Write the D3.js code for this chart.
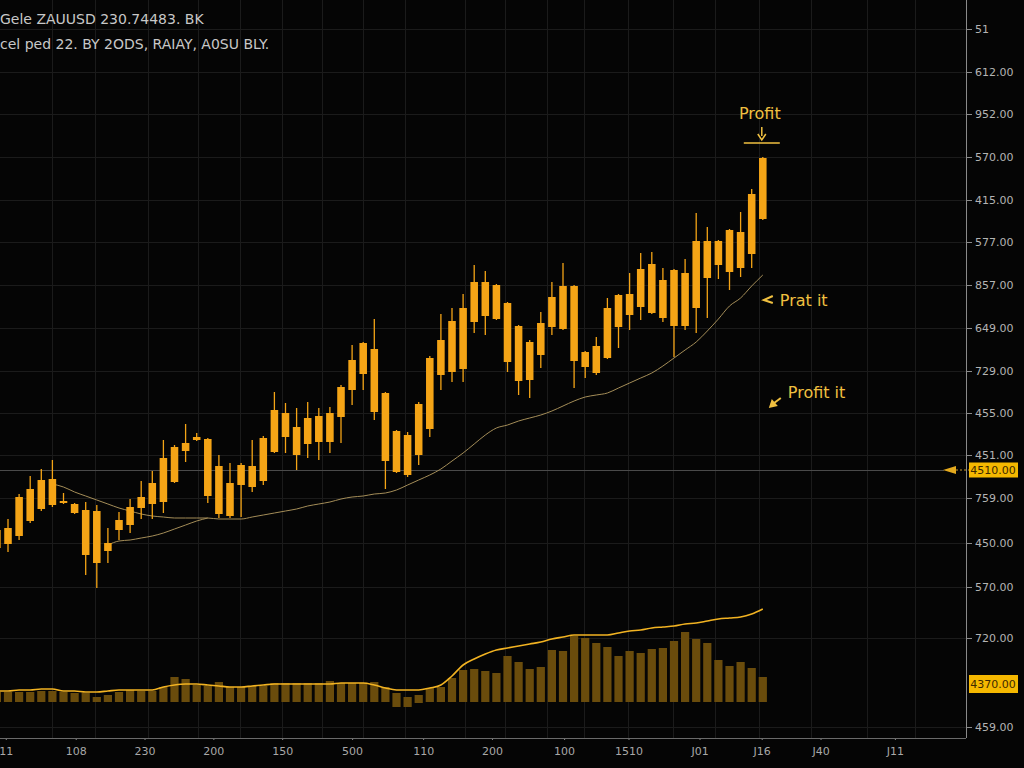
<!DOCTYPE html>
<html>
<head>
<meta charset="utf-8">
<script src="https://cdn.jsdelivr.net/npm/d3@7"></script>
<style>
  html, body { margin: 0; padding: 0; background: #050505; }
  svg { display: block; }
</style>
</head>
<body>
<div id="chart"></div>
<script>
// frame
const WIDTH = 1024;
const HEIGHT = 768;
const AXIS_X = 966;   // right price axis
const AXIS_Y = 738;   // bottom time axis

// candles (all drawn the same orange in the reference)
const openP = [4452,4456,4464,4479,4491,4495,4497,4487,4445,4437,
               4449,4470,4475,4492,4496,4498,4518,4549,4560,4504,
               4486,4484,4515,4513,4519,4548,4563,4545,4556,4558,
               4558,4583,4610,4626,4588,4539,4528,4525,4545,4571,
               4625,4628,4631,4678,4684,4681,4638,4619,4620,4645,
               4673,4671,4639,4633,4627,4642,4673,4685,4693,4687,
               4682,4674,4674,4692,4722,4735,4728,4732,4746,4781];
const closeP = [4470,4472,4503,4511,4520,4521,4499,4496,4490,4489,
                4457,4480,4493,4503,4517,4542,4553,4557,4563,4561,
                4534,4517,4535,4534,4562,4590,4587,4573,4582,4584,
                4587,4613,4640,4657,4651,4607,4569,4565,4596,4642,
                4660,4679,4692,4718,4718,4715,4697,4674,4658,4677,
                4703,4714,4714,4648,4654,4692,4705,4706,4731,4736,
                4720,4730,4727,4759,4759,4759,4770,4768,4806,4842];
const highP = [4475,4481,4506,4524,4531,4540,4507,4497,4498,4495,
               4472,4488,4501,4519,4529,4560,4555,4576,4567,4562,
               4545,4537,4537,4560,4564,4608,4597,4592,4598,4592,
               4593,4615,4655,4658,4681,4608,4570,4568,4598,4644,
               4686,4692,4706,4735,4729,4716,4698,4675,4660,4688,
               4718,4737,4715,4649,4663,4702,4706,4727,4747,4748,
               4732,4731,4741,4787,4773,4760,4771,4788,4811,4843];
const lowP = [4448,4448,4460,4477,4489,4493,4496,4486,4425,4412,
              4437,4460,4467,4481,4481,4487,4517,4538,4559,4497,
              4482,4482,4483,4508,4515,4547,4547,4530,4542,4540,
              4547,4557,4595,4610,4580,4511,4527,4523,4535,4563,
              4610,4618,4618,4667,4665,4680,4628,4605,4602,4632,
              4665,4670,4612,4622,4625,4641,4652,4670,4680,4686,
              4678,4643,4670,4667,4682,4721,4710,4723,4732,4780];

// moving averages
const maSlow = [null,null,null,null,null,4516,4513,4508,4504,4500,
                4496,4492,4489,4486,4484,4483,4482,4482,4482,4482,
                4481,4481,4481,4483,4485,4487,4489,4491,4494,4496,
                4498,4501,4503,4504,4506,4507,4510,4515,4520,4525,
                4531,4539,4547,4556,4565,4572,4575,4579,4582,4585,
                4589,4594,4599,4603,4605,4607,4612,4617,4622,4627,
                4634,4642,4650,4658,4669,4681,4694,4702,4714,4725];
const maFast = [null,null,null,null,null,null,null,null,null,null,
                4455,4459,4460,4462,4464,4467,4471,4475,4479,4482];

// volume panel
const volume = [10,10,10,10,11,11,10,9,9,5,
                7,10,12,11,11,15,25,23,17,16,
                20,15,15,16,16,19,19,19,19,19,
                21,19,19,19,20,15,9,5,7,14,
                15,24,32,33,31,29,46,40,33,35,
                52,51,66,64,59,55,46,51,49,53,
                54,61,70,63,59,42,36,40,34,25];
const dipBars = [36, 37, 38];
const dipDepth = [5, 5, 1];
const volumeLine = [11,11,12,12,13,13,11,11,10,10,
                    11,12,12,12,12,15,17,18,18,17,
                    16,15,15,16,17,18,18,18,18,18,
                    18,19,19,19,17,14,12,12,12,14,
                    17,26,37,43,48,52,54,56,58,60,
                    63,65,67,67,67,67,69,71,72,74,
                    75,76,78,79,81,83,84,85,88,93];

// axes
const priceTicks = [4971,4928,4886,4843,4800,4758,4715,4672,4629,4587,4545,4502,4457,4413,4362,4273];
const priceLabels = ["51","612.00","952.00","570.00","415.00","577.00","857.00","649.00",
                     "729.00","455.00","451.00","759.00","450.00","570.00","720.00","459.00"];
const timeTicks = [0.8,7.1,13.3,19.5,25.7,32,38.4,44.6,51.1,56.9,63.3,68.9,74.2,80.9];
const timeLabels = ["11","108","230","200","150","500","110","200","100","1510","J01","J16","J40","J11"];
const gridCols = [5.0,8.8,13.6,18.1,21.9,25.7,29.3,33.0,36.8,42.2,45.8,49.6,52.9,56.9,60.9,64.7,68.7,73.3,78.4,82.7];

// markers
const lastPrice = 4530;
const lastLabel = "4510.00";
const volPrice = 4316;
const volLabel = "4370.00";

const ORANGE = "#f4a416";
const GOLD = "#f0c040";

const svg = d3.select("#chart")
  .append("svg")
    .attr("width", WIDTH)
    .attr("height", HEIGHT);

svg.append("rect")
  .attr("width", WIDTH)
  .attr("height", HEIGHT)
  .attr("fill", "#050505");

svg.append("clipPath").attr("id", "plot")
  .append("rect")
    .attr("x", 0).attr("y", 0)
    .attr("width", AXIS_X).attr("height", AXIS_Y);

const x = d3.scaleLinear().domain([0, 87]).range([-3.1, 962.6]);
const y = d3.scaleLinear().domain([4232, 5000]).range([768, 0]);
const volY = d3.scaleLinear().domain([0, 100]).range([702, 602]);
const step = x(1) - x(0);

// grid
const grid = svg.append("g").attr("stroke", "#1b1b1b").attr("stroke-width", 1);
grid.selectAll(".h").data(priceTicks).enter().append("line")
  .attr("x1", 0).attr("x2", AXIS_X)
  .attr("y1", (d) => Math.round(y(d)) + 0.5)
  .attr("y2", (d) => Math.round(y(d)) + 0.5);
grid.selectAll(".v").data(gridCols).enter().append("line")
  .attr("x1", (d) => Math.round(x(d)) + 0.5)
  .attr("x2", (d) => Math.round(x(d)) + 0.5)
  .attr("y1", 0).attr("y2", AXIS_Y);

// last price line
svg.append("line")
  .attr("x1", 0).attr("x2", 944)
  .attr("y1", Math.round(y(lastPrice)) + 0.5)
  .attr("y2", Math.round(y(lastPrice)) + 0.5)
  .attr("stroke", "#4a4a4a");

const plot = svg.append("g").attr("clip-path", "url(#plot)");

// volume bars
const bars = plot.append("g").attr("fill", "#6a4c0c");
bars.selectAll("rect").data(volume).enter().append("rect")
  .attr("x", (d, i) => x(i) - step * 0.37)
  .attr("width", step * 0.74)
  .attr("y", (d) => volY(d))
  .attr("height", (d, i) => {
    const k = dipBars.indexOf(i);
    return volY(k >= 0 ? -dipDepth[k] : 0) - volY(d);
  });

// volume line
plot.append("path")
  .datum(volumeLine)
  .attr("fill", "none")
  .attr("stroke", "#f2b322")
  .attr("stroke-width", 1.6)
  .attr("d", d3.line()
    .x((d, i) => x(i))
    .y((d) => volY(d))
    .curve(d3.curveMonotoneX));

// moving averages
const maLine = d3.line()
  .defined((d) => d != null)
  .x((d, i) => x(i))
  .y((d) => y(d))
  .curve(d3.curveMonotoneX);

[maSlow, maFast].forEach((series) => {
  plot.append("path")
    .datum(series)
    .attr("fill", "none")
    .attr("stroke", "#a48d58")
    .attr("stroke-width", 1)
    .attr("d", maLine);
});

// candles
const candles = plot.append("g")
  .selectAll("g")
  .data(openP)
  .enter()
  .append("g");

candles.append("line")
  .attr("x1", (d, i) => x(i))
  .attr("x2", (d, i) => x(i))
  .attr("y1", (d, i) => y(highP[i]))
  .attr("y2", (d, i) => y(lowP[i]))
  .attr("stroke", ORANGE)
  .attr("stroke-width", 1.3);

candles.append("rect")
  .attr("x", (d, i) => x(i) - step * 0.34)
  .attr("width", step * 0.68)
  .attr("y", (d, i) => y(Math.max(d, closeP[i])))
  .attr("height", (d, i) => Math.max(1.5, Math.abs(y(d) - y(closeP[i]))))
  .attr("fill", ORANGE);

// right axis
const yAxis = d3.axisRight(y)
  .tickValues(priceTicks)
  .tickFormat((d, i) => priceLabels[i])
  .tickSize(6)
  .tickPadding(3);

const yAxisG = svg.append("g")
  .attr("transform", `translate(${AXIS_X},0)`)
  .call(yAxis);
yAxisG.select(".domain").remove();
yAxisG.selectAll("line").attr("stroke", "#8a8a8a");
yAxisG.selectAll("text")
  .attr("fill", "#b4b4b4")
  .style("font-family", "DejaVu Sans")
  .style("font-size", "11px");

svg.append("line")
  .attr("x1", AXIS_X + 0.5).attr("x2", AXIS_X + 0.5)
  .attr("y1", 0).attr("y2", AXIS_Y)
  .attr("stroke", "#8a8a8a");

// bottom axis
const xAxis = d3.axisBottom(x)
  .tickValues(timeTicks)
  .tickFormat((d, i) => timeLabels[i])
  .tickSize(2)
  .tickPadding(7);

const xAxisG = svg.append("g")
  .attr("transform", `translate(0,${AXIS_Y})`)
  .call(xAxis);
xAxisG.select(".domain").remove();
xAxisG.selectAll("line").attr("stroke", "#8a8a8a");
xAxisG.selectAll("text")
  .attr("fill", "#a8a8a8")
  .style("font-family", "DejaVu Sans")
  .style("font-size", "11px");

svg.append("line")
  .attr("x1", 0).attr("x2", AXIS_X)
  .attr("y1", AXIS_Y + 0.5).attr("y2", AXIS_Y + 0.5)
  .attr("stroke", "#6a6a6a");

// price tags on the axis
function priceTag(price, label, h) {
  const cy = y(price);
  svg.append("rect")
    .attr("x", 969).attr("y", cy - h / 2)
    .attr("width", 49).attr("height", h)
    .attr("fill", "#f5b800");
  svg.append("text")
    .attr("x", 993).attr("y", cy + 4)
    .attr("text-anchor", "middle")
    .attr("fill", "#3e2a00")
    .style("font-family", "DejaVu Sans")
    .style("font-size", "11px")
    .text(label);
}
priceTag(lastPrice, lastLabel, 15);
priceTag(volPrice, volLabel, 18);

// last price arrow
const ly = y(lastPrice);
svg.append("path")
  .attr("d", `M943,${ly} L956,${ly - 4} L956,${ly + 4} Z`)
  .attr("fill", "#e4aa1e");
svg.append("line")
  .attr("x1", 956).attr("x2", 969)
  .attr("y1", ly).attr("y2", ly)
  .attr("stroke", "#c89a30")
  .attr("stroke-dasharray", "2,2");

// title
const title = svg.append("g")
  .attr("fill", "#c8c8c8")
  .style("font-family", "DejaVu Sans")
  .style("font-size", "14px");
title.append("text").attr("x", 0).attr("y", 24)
  .text("Gele ZAUUSD 230.74483. BK");
title.append("text").attr("x", 0).attr("y", 49)
  .text("cel ped 22. BY 2ODS, RAIAY, A0SU BLY.");

// annotations
const last = openP.length - 1;
const ann = svg.append("g")
  .attr("fill", GOLD)
  .style("font-family", "DejaVu Sans")
  .style("font-size", "16px");

const ax = x(last);
ann.append("text")
  .attr("x", ax - 3).attr("y", y(4881))
  .attr("text-anchor", "middle")
  .text("Profit");
ann.append("line")
  .attr("x1", ax - 1).attr("x2", ax - 1)
  .attr("y1", y(4873)).attr("y2", y(4864))
  .attr("stroke", GOLD).attr("stroke-width", 1.5);
ann.append("path")
  .attr("d", `M${ax - 5},${y(4866)} L${ax - 1},${y(4860)} L${ax + 3},${y(4866)}`)
  .attr("fill", "none")
  .attr("stroke", GOLD).attr("stroke-width", 1.5);
ann.append("line")
  .attr("x1", ax - 19).attr("x2", ax + 17)
  .attr("y1", y(4857)).attr("y2", y(4857))
  .attr("stroke", GOLD).attr("stroke-width", 1.5);

const py = y(4700);
ann.append("path")
  .attr("d", `M${ax + 10},${py - 4} L${ax + 1},${py} L${ax + 10},${py + 3}`)
  .attr("fill", "none")
  .attr("stroke", GOLD).attr("stroke-width", 2);
ann.append("text")
  .attr("x", ax + 17).attr("y", py + 6)
  .text("Prat it");

const qy = y(4608);
ann.append("text")
  .attr("x", ax + 25).attr("y", qy + 6)
  .text("Profit it");
ann.append("line")
  .attr("x1", ax + 18).attr("x2", ax + 10)
  .attr("y1", qy + 6).attr("y2", qy + 12)
  .attr("stroke", GOLD).attr("stroke-width", 2);
ann.append("path")
  .attr("d", `M${ax + 6},${qy + 16} L${ax + 9},${qy + 7} L${ax + 15},${qy + 14} Z`)
  .attr("fill", GOLD);
</script>
</body>
</html>
